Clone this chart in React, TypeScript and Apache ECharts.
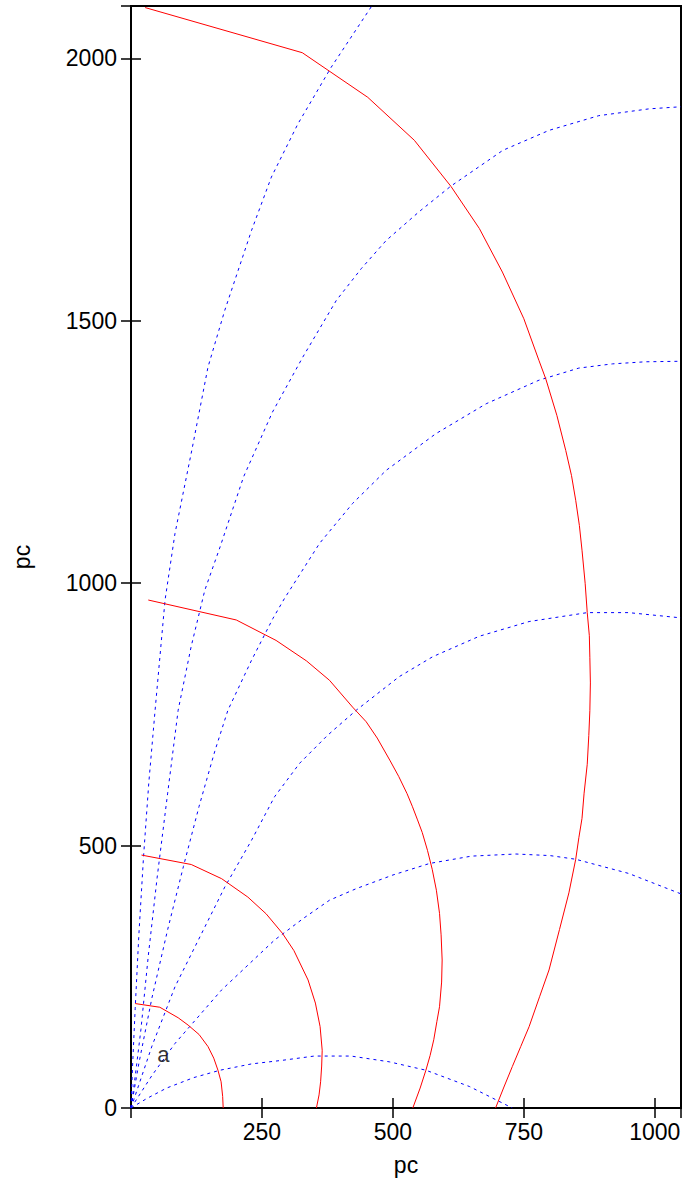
import React, { useEffect, useRef } from "react";
import * as echarts from "echarts";

// Constant-distance contours (red, solid), [x pc, y pc]
const distD: number[][] = [[8, 199], [55, 192], [90, 172], [109, 158], [130, 140], [147, 117], [158, 95], [166, 72], [172, 50], [175, 22], [176, 0]];
const distC: number[][] = [[20, 482], [115, 464], [173, 437], [223, 402], [258, 370], [289, 333], [311, 300], [338, 244], [352, 200], [361, 155], [365, 110], [364, 80], [362, 50], [359, 25], [354, 0]];
const distB: number[][] = [[33, 968], [201, 930], [277, 891], [335, 852], [379, 815], [423, 764], [449, 736], [470, 705], [494, 663], [511, 632], [527, 599], [537, 575], [547, 549], [556, 525], [566, 491], [575, 455], [583, 415], [589, 371], [592, 330], [594, 282], [593, 240], [589, 193], [584, 165], [578, 130], [571, 100], [563, 72], [552, 38], [538, 0]];
const distA: number[][] = [[27, 2097], [327, 2011], [452, 1926], [541, 1844], [611, 1756], [665, 1676], [709, 1593], [750, 1504], [779, 1424], [792, 1389], [813, 1320], [830, 1253], [841, 1205], [849, 1158], [856, 1110], [861, 1063], [867, 1000], [871, 944], [875, 900], [876, 859], [877, 810], [876, 757], [874, 710], [871, 655], [865, 600], [861, 552], [855, 515], [849, 474], [836, 410], [818, 340], [798, 263], [780, 212], [760, 155], [744, 117], [728, 79], [712, 40], [696, 0]];

// Constant-direction tracks (blue, dashed), [x pc, y pc]
const dir1: number[][] = [[0, 0], [30, 18], [68, 38], [120, 58], [170, 72], [230, 84], [290, 91], [350, 99], [420, 99], [493, 88], [563, 72], [646, 41], [728, 0]];
const dir2: number[][] = [[0, 0], [40, 62], [84, 123], [173, 225], [274, 320], [330, 362], [379, 396], [430, 418], [500, 444], [570, 466], [650, 480], [735, 484], [800, 481], [849, 474], [950, 447], [1050, 408]];
const dir3: number[][] = [[0, 0], [40, 118], [84, 231], [179, 421], [230, 510], [274, 593], [322, 657], [375, 710], [430, 758], [512, 822], [576, 860], [665, 899], [760, 927], [871, 944], [950, 944], [1050, 934]];
const dir4: number[][] = [[0, 0], [15, 85], [40, 210], [70, 340], [100, 460], [130, 575], [160, 680], [185, 758], [230, 853], [271, 933], [293, 971], [360, 1076], [423, 1152], [487, 1215], [582, 1285], [678, 1342], [779, 1387], [855, 1410], [919, 1418], [982, 1422], [1050, 1423]];
const dir5: number[][] = [[0, 0], [8, 60], [19, 150], [33, 290], [50, 440], [70, 600], [90, 758], [115, 880], [141, 987], [170, 1069], [215, 1203], [270, 1326], [328, 1431], [392, 1539], [440, 1600], [487, 1653], [550, 1708], [611, 1757], [710, 1825], [798, 1863], [893, 1891], [989, 1904], [1050, 1908]];
const dir6: number[][] = [[0, 0], [3, 80], [8, 190], [15, 330], [24, 480], [34, 620], [46, 758], [65, 968], [84, 1095], [116, 1253], [147, 1412], [179, 1520], [230, 1672], [268, 1774], [319, 1876], [382, 1983], [459, 2099]];

const distanceCurves = [distD, distC, distB, distA];
const directionCurves = [dir1, dir2, dir3, dir4, dir5, dir6];

const xTicks = [250, 500, 750, 1000];
const yTicks = [0, 500, 1000, 1500, 2000];
const markerLabel = { text: "a", at: [62, 101] };

const FONT = "'Liberation Sans', Arial, Helvetica, sans-serif";

export default function App() {
  const ref = useRef<HTMLDivElement>(null);

  useEffect(() => {
    if (!ref.current) return;
    const chart = echarts.init(ref.current, undefined, { renderer: "svg" });

    const tickStyle = { inside: true, length: 10, lineStyle: { color: "#000", width: 1.5 } };
    const baseX = {
      type: "value" as const,
      min: 0,
      max: 1050,
      interval: 250,
      axisLine: { show: false },
      axisTick: tickStyle,
      splitLine: { show: false },
    };
    const baseY = {
      type: "value" as const,
      min: 0,
      max: 2100,
      interval: 500,
      axisLine: { show: false },
      axisTick: tickStyle,
      splitLine: { show: false },
    };

    const series: any[] = [];
    directionCurves.forEach((d, i) => {
      series.push({
        type: "line",
        name: "dir" + (i + 1),
        data: d,
        showSymbol: false,
        symbol: "none",
        lineStyle: { color: "#0000ff", width: 1, type: [3, 4] },
        z: 2,
      });
    });
    distanceCurves.forEach((d, i) => {
      series.push({
        type: "line",
        name: "dist" + (i + 1),
        data: d,
        showSymbol: false,
        symbol: "none",
        lineStyle: { color: "#ff0000", width: 1 },
        z: 3,
      });
    });
    series.push({
      type: "scatter",
      data: [markerLabel.at],
      symbolSize: 0,
      label: {
        show: true,
        position: "inside",
        formatter: markerLabel.text,
        color: "#000",
        fontSize: 22,
        fontFamily: FONT,
      },
      z: 4,
    });

    chart.setOption({
      animation: false,
      backgroundColor: "#fff",
      grid: {
        left: 131,
        top: 6,
        width: 551,
        height: 1102,
        show: true,
        borderColor: "#000",
        borderWidth: 2,
        backgroundColor: "transparent",
      },
      xAxis: [
        {
          ...baseX,
          position: "bottom",
          axisLabel: {
            color: "#000",
            fontSize: 23,
            fontFamily: FONT,
            margin: 12,
            formatter: (v: number) => (xTicks.includes(v) ? String(v) : ""),
          },
          name: "pc",
          nameLocation: "middle",
          nameGap: 45,
          nameTextStyle: { color: "#000", fontSize: 23, fontFamily: FONT },
        },
        { ...baseX, position: "top", axisLabel: { show: false } },
      ],
      yAxis: [
        {
          ...baseY,
          position: "left",
          axisLabel: {
            color: "#000",
            fontSize: 23,
            fontFamily: FONT,
            margin: 14,
            formatter: (v: number) => (yTicks.includes(v) ? String(v) : ""),
          },
          name: "pc",
          nameLocation: "middle",
          nameGap: 98,
          nameTextStyle: { color: "#000", fontSize: 23, fontFamily: FONT },
        },
        { ...baseY, position: "right", axisLabel: { show: false } },
      ],
      series,
    });

    return () => chart.dispose();
  }, []);

  return (
    <div
      ref={ref}
      style={{ position: "absolute", left: 0, top: 0, width: 684, height: 1186 }}
    />
  );
}
